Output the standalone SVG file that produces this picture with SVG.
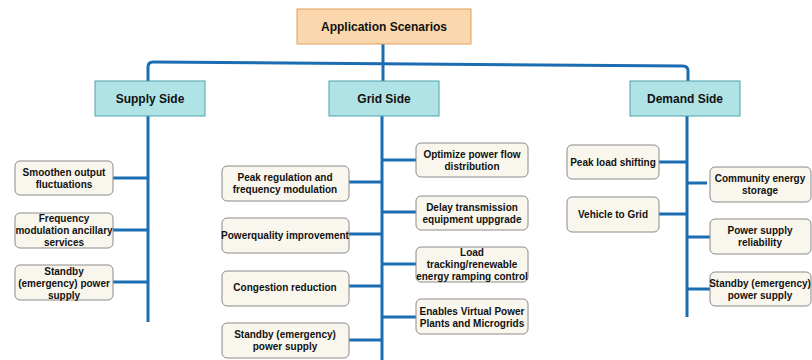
<svg xmlns="http://www.w3.org/2000/svg" width="812" height="360" viewBox="0 0 812 360">
<style>
.root{fill:#FAD7AC;stroke:#E0A060;stroke-width:1}
.head{fill:#B0E3E6;stroke:#4FA3AA;stroke-width:1}
.leaf{fill:#F9F7ED;stroke:#8A8A8A;stroke-width:1}
text{font-family:"Liberation Sans",Arial,sans-serif;font-weight:bold;fill:#111;text-anchor:middle;dominant-baseline:central}
.t12{font-size:12px}
.t10{font-size:10px}
.ln{fill:none;stroke:#1A6DB0;stroke-width:3}
</style>
<g id="connectors">
<path class="ln" d="M383,44 L383,81"/>
<path class="ln" d="M148,116 L148,67 Q148,62 153,62 L683,66 Q688,66 688,71 L688,81"/>
<path class="ln" d="M148,116 L148,322"/>
<path class="ln" d="M113,178 L148,178 M113,230 L148,230 M113,282 L148,282"/>
<path class="ln" d="M382,116 L382,360"/>
<path class="ln" d="M349,182 L382,182 M349,234 L382,234 M349,286 L382,286 M349,340 L382,340"/>
<path class="ln" d="M382,160 L416,160 M382,212 L416,212 M382,264 L416,264 M382,317 L416,317"/>
<path class="ln" d="M687,116 L687,317"/>
<path class="ln" d="M659,162 L687,162 M659,214 L687,214"/>
<path class="ln" d="M687,183 L707,183 M687,237 L710,237 M687,289 L710,289"/>
</g>
<g id="root"><rect class="root" x="297" y="9" width="174" height="35"/><text class="t12" x="384" y="27">Application Scenarios</text></g>
<g id="supply"><rect class="head" x="95" y="81" width="110" height="35"/><text class="t12" x="150" y="99">Supply Side</text></g>
<g id="grid"><rect class="head" x="329" y="81" width="110" height="35"/><text class="t12" x="384" y="99">Grid Side</text></g>
<g id="demand"><rect class="head" x="630" y="81" width="110" height="35"/><text class="t12" x="685" y="99">Demand Side</text></g>

<g id="s1"><rect class="leaf" x="15" y="161" width="98" height="34" rx="5"/><text class="t10" x="64" y="172">Smoothen output</text><text class="t10" x="64" y="184">fluctuations</text></g>
<g id="s2"><rect class="leaf" x="15" y="213" width="98" height="35" rx="5"/><text class="t10" x="64" y="218.5">Frequency</text><text class="t10" x="64" y="230">modulation ancillary</text><text class="t10" x="64" y="242">services</text></g>
<g id="s3"><rect class="leaf" x="15" y="265" width="98" height="35" rx="5"/><text class="t10" x="64" y="271">Standby</text><text class="t10" x="64" y="283">(emergency) power</text><text class="t10" x="64" y="295">supply</text></g>

<g id="g1"><rect class="leaf" x="222" y="166" width="127" height="35" rx="5"/><text class="t10" x="285" y="177">Peak regulation and</text><text class="t10" x="285" y="189">frequency modulation</text></g>
<g id="g2"><rect class="leaf" x="222" y="218" width="127" height="35" rx="5"/><text class="t10" x="285" y="235">Powerquality improvement</text></g>
<g id="g3"><rect class="leaf" x="222" y="271" width="127" height="35" rx="5"/><text class="t10" x="285" y="287">Congestion reduction</text></g>
<g id="g4"><rect class="leaf" x="222" y="323" width="127" height="35" rx="5"/><text class="t10" x="285" y="334">Standby (emergency)</text><text class="t10" x="285" y="346">power supply</text></g>

<g id="g5"><rect class="leaf" x="416" y="143" width="112" height="34" rx="5"/><text class="t10" x="472" y="154">Optimize power flow</text><text class="t10" x="472" y="166">distribution</text></g>
<g id="g6"><rect class="leaf" x="416" y="196" width="112" height="34" rx="5"/><text class="t10" x="472" y="207">Delay transmission</text><text class="t10" x="472" y="219">equipment uppgrade</text></g>
<g id="g7"><rect class="leaf" x="416" y="247" width="112" height="35" rx="5"/><text class="t10" x="472" y="252.5">Load</text><text class="t10" x="472" y="264">tracking/renewable</text><text class="t10" x="472" y="276">energy ramping control</text></g>
<g id="g8"><rect class="leaf" x="416" y="299" width="112" height="35" rx="5"/><text class="t10" x="472" y="311">Enables Virtual Power</text><text class="t10" x="472" y="323">Plants and Microgrids</text></g>

<g id="d1"><rect class="leaf" x="567" y="145" width="92" height="34" rx="5"/><text class="t10" x="613" y="162">Peak load shifting</text></g>
<g id="d2"><rect class="leaf" x="567" y="197" width="92" height="35" rx="5"/><text class="t10" x="613" y="214">Vehicle to Grid</text></g>
<g id="d3"><rect class="leaf" x="710" y="167" width="101" height="35" rx="5"/><text class="t10" x="760" y="178">Community energy</text><text class="t10" x="760" y="190">storage</text></g>
<g id="d4"><rect class="leaf" x="710" y="219" width="101" height="35" rx="5"/><text class="t10" x="760" y="230">Power supply</text><text class="t10" x="760" y="242">reliability</text></g>
<g id="d5"><rect class="leaf" x="710" y="272" width="101" height="34" rx="5"/><text class="t10" x="760" y="283">Standby (emergency)</text><text class="t10" x="760" y="295">power supply</text></g>
</svg>
